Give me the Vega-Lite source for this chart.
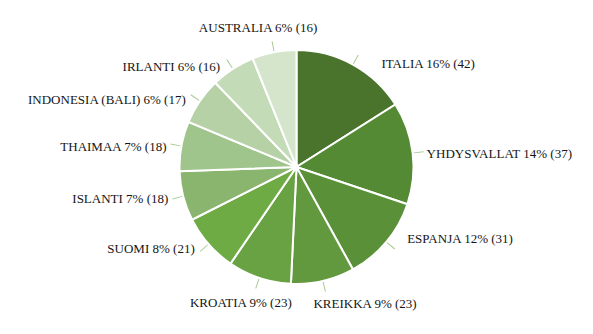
{
  "$schema": "https://vega.github.io/schema/vega-lite/v6.json",
  "width": 593,
  "height": 334,
  "autosize": {"type": "fit", "contains": "padding"},
  "padding": 0,
  "background": "white",
  "config": {"view": {"stroke": null}, "text": {"font": "Liberation Serif", "fontSize": 13, "fill": "#151515", "baseline": "middle"}},
  "data": {
    "values": [
      {"i": 1, "name": "ITALIA", "value": 42, "pct": 16},
      {"i": 2, "name": "YHDYSVALLAT", "value": 37, "pct": 14},
      {"i": 3, "name": "ESPANJA", "value": 31, "pct": 12},
      {"i": 4, "name": "KREIKKA", "value": 23, "pct": 9},
      {"i": 5, "name": "KROATIA", "value": 23, "pct": 9},
      {"i": 6, "name": "SUOMI", "value": 21, "pct": 8},
      {"i": 7, "name": "ISLANTI", "value": 18, "pct": 7},
      {"i": 8, "name": "THAIMAA", "value": 18, "pct": 7},
      {"i": 9, "name": "INDONESIA (BALI)", "value": 17, "pct": 6},
      {"i": 10, "name": "IRLANTI", "value": 16, "pct": 6},
      {"i": 11, "name": "AUSTRALIA", "value": 16, "pct": 6}
    ]
  },
  "transform": [
    {"window": [{"op": "sum", "field": "value", "as": "cum1"}], "sort": [{"field": "i"}], "frame": [null, 0]},
    {"calculate": "datum.cum1 - datum.value", "as": "cum0"},
    {"calculate": "datum.cum1 - datum.value / 2", "as": "mid"},
    {"calculate": "datum.mid - 0.17", "as": "lo"},
    {"calculate": "datum.mid + 0.17", "as": "hi"},
    {"calculate": "datum.name + ' ' + datum.pct + '% (' + datum.value + ')'", "as": "label"}
  ],
  "layer": [
    {
      "mark": {"type": "arc", "outerRadius": 117, "stroke": "white", "strokeWidth": 2},
      "encoding": {
        "theta": {"field": "cum0", "type": "quantitative", "stack": null, "scale": {"domain": [0, 262]}},
        "theta2": {"field": "cum1"},
        "color": {
          "field": "name", "type": "nominal", "legend": null,
          "scale": {
            "domain": ["ITALIA", "YHDYSVALLAT", "ESPANJA", "KREIKKA", "KROATIA", "SUOMI", "ISLANTI", "THAIMAA", "INDONESIA (BALI)", "IRLANTI", "AUSTRALIA"],
            "range": ["#4a742c", "#558a34", "#5a9138", "#62993f", "#68a243", "#6fab45", "#8ab56e", "#a0c58c", "#b5d1a5", "#c4dbb7", "#d5e5cc"]
          }
        }
      }
    },
    {
      "mark": {"type": "arc", "innerRadius": 118, "outerRadius": 128, "color": "#a8cc94"},
      "encoding": {
        "theta": {"field": "lo", "type": "quantitative", "stack": null, "scale": {"domain": [0, 262]}},
        "theta2": {"field": "hi"}
      }
    },
    {
      "transform": [{"filter": "datum.name == 'ITALIA'"}],
      "mark": {"type": "text", "radius": 122, "align": "left", "dx": 26, "dy": 4},
      "encoding": {
        "theta": {"field": "mid", "type": "quantitative", "stack": null, "scale": {"domain": [0, 262]}},
        "text": {"field": "label"}
      }
    },
    {
      "transform": [{"filter": "datum.name == 'YHDYSVALLAT'"}],
      "mark": {"type": "text", "radius": 122, "align": "left", "dx": 9, "dy": 2},
      "encoding": {
        "theta": {"field": "mid", "type": "quantitative", "stack": null, "scale": {"domain": [0, 262]}},
        "text": {"field": "label"}
      }
    },
    {
      "transform": [{"filter": "datum.name == 'ESPANJA'"}],
      "mark": {"type": "text", "radius": 122, "align": "left", "dx": 17, "dy": -6},
      "encoding": {
        "theta": {"field": "mid", "type": "quantitative", "stack": null, "scale": {"domain": [0, 262]}},
        "text": {"field": "label"}
      }
    },
    {
      "transform": [{"filter": "indexof(['SUOMI','ISLANTI','THAIMAA','INDONESIA (BALI)','IRLANTI'], datum.name) >= 0"}],
      "mark": {"type": "text", "radius": 122, "align": "right", "dx": -10, "dy": 2},
      "encoding": {
        "theta": {"field": "mid", "type": "quantitative", "stack": null, "scale": {"domain": [0, 262]}},
        "text": {"field": "label"}
      }
    },
    {
      "transform": [{"filter": "datum.name == 'AUSTRALIA'"}],
      "mark": {"type": "text", "radius": 128, "align": "center", "dx": -14, "dy": -13},
      "encoding": {
        "theta": {"field": "mid", "type": "quantitative", "stack": null, "scale": {"domain": [0, 262]}},
        "text": {"field": "label"}
      }
    },
    {
      "transform": [{"filter": "datum.name == 'KREIKKA'"}],
      "mark": {"type": "text", "radius": 128, "align": "left", "dx": -12, "dy": 12},
      "encoding": {
        "theta": {"field": "mid", "type": "quantitative", "stack": null, "scale": {"domain": [0, 262]}},
        "text": {"field": "label"}
      }
    },
    {
      "transform": [{"filter": "datum.name == 'KROATIA'"}],
      "mark": {"type": "text", "radius": 128, "align": "right", "dx": 36, "dy": 15},
      "encoding": {
        "theta": {"field": "mid", "type": "quantitative", "stack": null, "scale": {"domain": [0, 262]}},
        "text": {"field": "label"}
      }
    }
  ]
}
